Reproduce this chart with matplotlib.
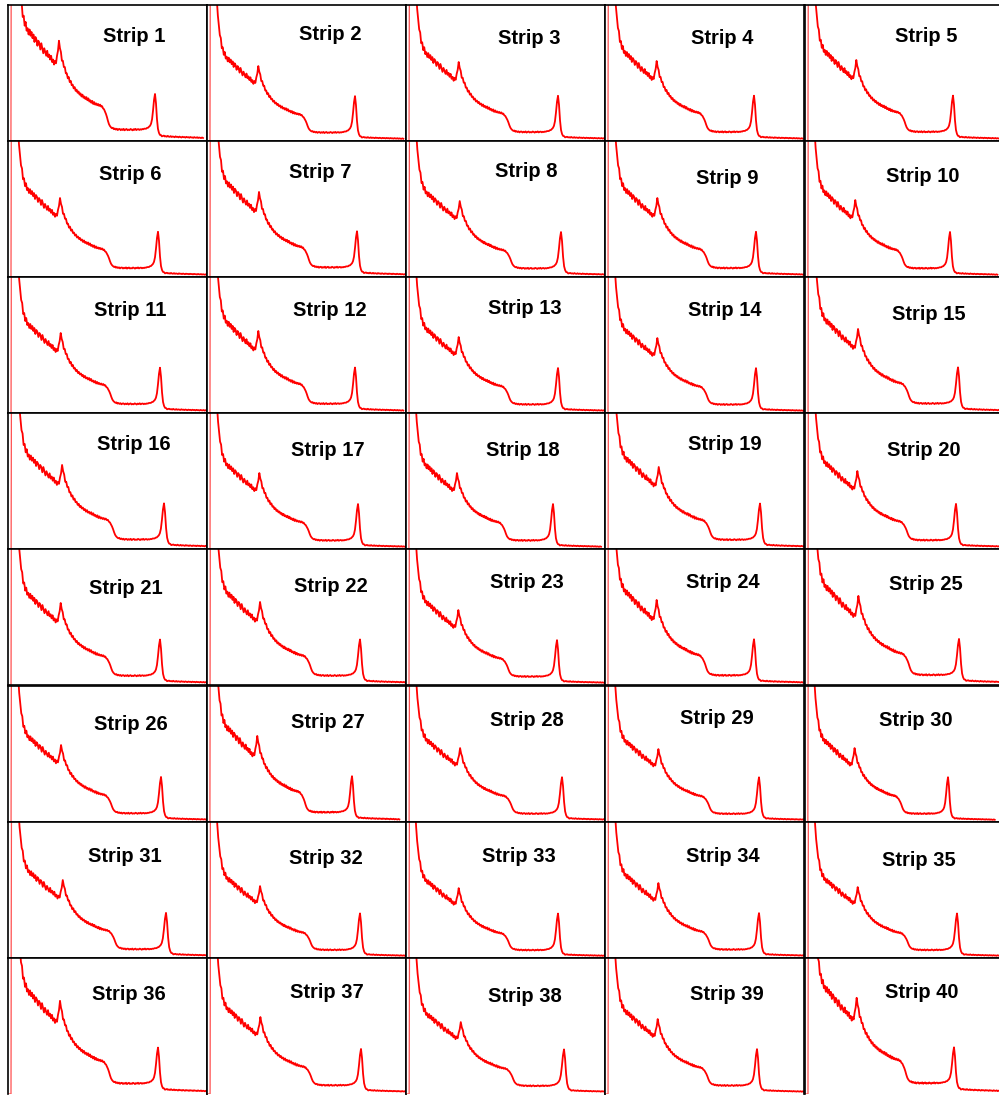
import numpy as np
import matplotlib
matplotlib.use('Agg')
import matplotlib.pyplot as plt

# Template pulse-height spectrum, one value every 5 ADC channels (0 .. 995)
continuum = [
    0, 0, 0, 0, 500, 400, 320, 255, 205, 172,
    150, 134, 124, 113, 110, 99, 100, 92, 95, 88,
    90, 85, 89, 84, 87, 82, 85, 79, 83, 81,
    76, 80, 78, 73, 78, 74, 70, 74, 71, 68,
    72, 67, 69, 65, 68, 63, 65, 61, 64, 62,
    68, 72, 80, 74, 71, 64, 64, 59, 59, 54,
    54, 50, 51, 47, 48, 44.5, 45, 42, 43, 40,
    41, 38.5, 39.5, 37, 38, 35.5, 37, 34.5, 35.5, 33.5,
    35, 32.5, 34, 31.5, 32.5, 30.5, 32, 29.5, 31, 29,
    30, 28.5, 29.5, 28, 29, 27.5, 27.8, 26, 25.3, 23.5,
    21.5, 19, 16, 13.5, 12, 11, 10.2, 10.6, 9.4, 10,
    9.1, 9.8, 8.7, 9.5, 9.6, 8.6, 9.4, 8.8, 9.7, 8.5,
    9.2, 9.6, 8.6, 9.1, 8.7, 9.6, 9.2, 8.5, 9.4, 8.9,
    9.7, 8.7, 9.3, 9.5, 8.8, 9.4, 9, 9.6, 8.9, 9.3,
    9, 8.8, 9.1, 8.6, 8.7, 8.2, 8.3, 7.8, 7.6, 7.2,
    6.8, 6.2, 5.6, 5, 4.6, 4.1, 4.5, 3.7, 4.0, 4.3,
    3.6, 3.9, 3.4, 4.1, 3.5, 3.3, 3.9, 3.2, 3.6, 3.4,
    3.0, 3.7, 3.2, 3.4, 2.9, 3.5, 3.1, 2.8, 3.4, 3.0,
    3.2, 2.7, 3.3, 2.9, 3.1, 2.6, 3.2, 2.8, 2.9, 2.5,
    3.1, 2.7, 2.6, 3.0, 2.4, 2.8, 2.6, 2.3, 2.8, 2.4,
]
# full-energy peak sitting on top of the continuum, starting at channel 690
photopeak_start = 690
photopeak = [0.5, 0.7, 1, 1.3, 1.8, 2.5, 3.5, 5, 7, 12,
             21, 32, 38.5, 30, 15, 6, 2.5, 1, 0.4]
template_peak_channel = 750
template_bump = 79

# per-strip photopeak position (ADC channel) and backscatter bump height
peak_channel = [735, 740, 760, 745, 740, 750, 750, 775, 755, 725,
                760, 740, 760, 755, 765, 780, 755, 735, 775, 755,
                760, 765, 755, 745, 770, 765, 725, 780, 770, 715,
                790, 765, 760, 770, 760, 750, 770, 790, 760, 745]
bump_height = [99, 74, 78, 79, 80, 78, 84, 75, 78, 76,
               79, 81, 75, 74, 83, 83, 75, 75, 81, 77,
               81, 82, 74, 84, 88, 76, 85, 73, 72, 73,
               77, 71, 69, 74, 70, 92, 76, 71, 74, 95]
strip_names = [f'Strip {i}' for i in range(1, 41)]

# panel grid in pixels
col_left = [8, 207, 406, 605, 805]
row_top = [5, 141, 277, 413, 549, 686, 822, 958]
panel_w, panel_h = 199, 136
label_xy = [(134, 37), (330, 35), (529, 38), (722, 39), (926, 37),
            (130, 175), (320, 173), (526, 172), (727, 178), (923, 176),
            (130, 311), (330, 310), (525, 308), (725, 310), (929, 315),
            (134, 444), (328, 451), (523, 450), (725, 445), (924, 450),
            (126, 588), (331, 587), (527, 582), (723, 582), (926, 585),
            (131, 724), (328, 723), (527, 720), (717, 718), (916, 721),
            (125, 856), (326, 858), (519, 856), (723, 857), (919, 860),
            (129, 995), (327, 993), (525, 997), (727, 995), (922, 992)]

W, H = 999, 1095
fig = plt.figure(figsize=(W / 100, H / 100), dpi=100)
fig.patch.set_facecolor('white')

channels = np.arange(len(continuum)) * 5.0
base = np.array(continuum, dtype=float)
peak = np.zeros_like(base)
i0 = photopeak_start // 5
peak[i0:i0 + len(photopeak)] = photopeak

for n in range(40):
    r, c = divmod(n, 5)
    left = col_left[c]
    top = row_top[r]
    ax = fig.add_axes([left / W, 1 - (top + panel_h) / H, panel_w / W, panel_h / H])
    gain = peak_channel[n] / template_peak_channel
    x = channels * gain
    counts = base * (bump_height[n] / template_bump) + peak
    # threshold edge drawn thin, rest of the spectrum normal
    ax.plot(x[:5], counts[:5], color='#ff5050', lw=0.9)
    ax.plot(x[4:], counts[4:], color='red', lw=1.3)
    ax.set_xlim(0, 995)
    ax.set_ylim(0, 136)
    ax.set_xticks([])
    ax.set_yticks([])
    for s in ax.spines.values():
        s.set_color('black')
        s.set_linewidth(1.2)
    if r == 7:
        ax.spines['bottom'].set_visible(False)

    lx, ly = label_xy[n]
    fig.text(lx / W, 1 - ly / H, strip_names[n], ha='center', va='center',
             fontsize=14.5, fontweight='bold', family='Liberation Sans')

fig.savefig('out.png', dpi=100, facecolor='white')
